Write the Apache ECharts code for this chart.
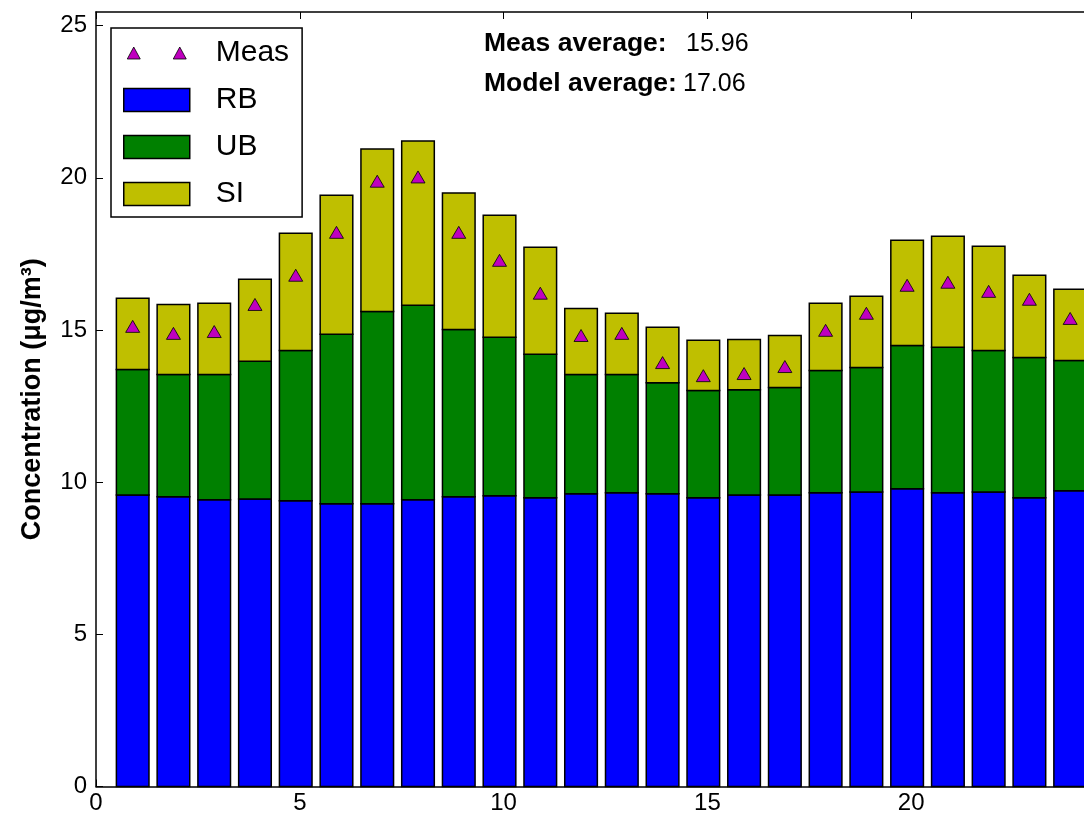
<!DOCTYPE html>
<html>
<head>
<meta charset="utf-8">
<script src="https://cdn.jsdelivr.net/npm/echarts@6/dist/echarts.min.js"></script>
<style>
  html, body { margin: 0; padding: 0; background: #ffffff; }
  #chart { width: 1084px; height: 818px; }
</style>
</head>
<body>
<div id="chart"></div>
<script>
// Hour of day for each bar
const hours = [1, 2, 3, 4, 5, 6, 7, 8, 9, 10, 11, 12, 13, 14, 15, 16, 17, 18, 19, 20, 21, 22, 23, 24];

// Modelled contributions (µg/m³), stacked RB -> UB -> SI
const rb = [9.58, 9.52, 9.42, 9.45, 9.39, 9.29, 9.29, 9.42, 9.52, 9.55, 9.49, 9.62,
            9.65, 9.62, 9.49, 9.58, 9.58, 9.65, 9.68, 9.78, 9.65, 9.68, 9.49, 9.72];
const ub = [4.12, 4.02, 4.12, 4.52, 4.94, 5.57, 6.32, 6.39, 5.50, 5.21, 4.71, 3.92,
            3.89, 3.65, 3.52, 3.46, 3.53, 4.02, 4.09, 4.71, 4.78, 4.65, 4.61, 4.28];
const si = [2.34, 2.30, 2.34, 2.70, 3.85, 4.57, 5.34, 5.40, 4.48, 4.01, 3.52, 2.17,
            2.01, 1.82, 1.65, 1.65, 1.71, 2.21, 2.34, 3.46, 3.65, 3.42, 2.70, 2.34];

// Measured concentrations (µg/m³)
const meas = [15.12, 14.89, 14.95, 15.84, 16.80, 18.21, 19.89, 20.03, 18.21, 17.29, 16.21, 14.82,
              14.89, 13.93, 13.50, 13.57, 13.80, 14.99, 15.55, 16.47, 16.57, 16.27, 16.01, 15.38];

// Summary figures printed in the header
const measAverage = '15.96';
const modelAverage = '17.06';

// Bars start half a unit left of the hour and are 0.8 units wide
const BAR_LEFT = -0.5;
const BAR_WIDTH = 0.8;
const BAR_CENTER = BAR_LEFT + BAR_WIDTH / 2;

const FONT = '"Liberation Sans", Arial, Helvetica, sans-serif';
const COLORS = { RB: '#0000ff', UB: '#008000', SI: '#bfbf00', Meas: '#bf00bf' };

// cumulative tops
const rbTop = rb.slice();
const ubTop = rb.map((v, i) => v + ub[i]);
const siTop = ubTop.map((v, i) => v + si[i]);

function layerData(low, high) {
  return hours.map((h, i) => [h, low[i], high[i]]);
}

function renderStackRect(color) {
  return function (params, api) {
    const h = api.value(0);
    const p0 = api.coord([h + BAR_LEFT, api.value(2)]);
    const p1 = api.coord([h + BAR_LEFT + BAR_WIDTH, api.value(1)]);
    return {
      type: 'rect',
      shape: { x: p0[0], y: p0[1], width: p1[0] - p0[0], height: p1[1] - p0[1] },
      style: { fill: color, stroke: '#000000', lineWidth: 1.5 }
    };
  };
}

function stackSeries(name, low, high) {
  return {
    name: name,
    type: 'custom',
    xAxisIndex: 0,
    yAxisIndex: 0,
    itemStyle: { color: COLORS[name], borderColor: '#000', borderWidth: 1.5 },
    encode: { x: 0, y: [1, 2] },
    data: layerData(low, high),
    renderItem: renderStackRect(COLORS[name]),
    silent: true,
    z: 2
  };
}

const zeros = hours.map(() => 0);

const axisLineStyle = { color: '#000000', width: 1.5 };

const chart = echarts.init(document.getElementById('chart'), null, { renderer: 'canvas' });

chart.setOption({
  animation: false,
  backgroundColor: '#ffffff',
  grid: {
    left: 96,
    top: 12,
    right: -31,
    bottom: 31.5,
    containLabel: false,
    outerBoundsMode: 'none'
  },
  xAxis: [
    {
      type: 'value',
      position: 'bottom',
      min: 0,
      max: 25,
      interval: 5,
      axisLine: { show: true, onZero: false, lineStyle: axisLineStyle },
      axisTick: { show: true, inside: true, length: 7, lineStyle: { color: '#000', width: 1 } },
      axisLabel: { show: true, color: '#000', fontSize: 24, fontFamily: FONT, margin: 5 },
      splitLine: { show: false }
    },
    {
      type: 'value',
      position: 'top',
      min: 0,
      max: 25,
      interval: 5,
      axisLine: { show: true, onZero: false, lineStyle: axisLineStyle },
      axisTick: { show: true, inside: true, length: 7, lineStyle: { color: '#000', width: 1 } },
      axisLabel: { show: false },
      splitLine: { show: false }
    }
  ],
  yAxis: [
    {
      type: 'value',
      position: 'left',
      min: 0,
      max: 25.45,
      interval: 5,
      name: 'Concentration (μg/m³)',
      nameLocation: 'middle',
      nameRotate: 90,
      nameGap: 50,
      nameTextStyle: { color: '#000', fontSize: 27, fontWeight: 'bold', fontFamily: FONT },
      axisLine: { show: true, onZero: false, lineStyle: axisLineStyle },
      axisTick: { show: true, inside: true, length: 7, lineStyle: { color: '#000', width: 1 } },
      axisLabel: { show: true, color: '#000', fontSize: 24, fontFamily: FONT, margin: 9, showMaxLabel: false },
      splitLine: { show: false }
    },
    {
      type: 'value',
      position: 'right',
      min: 0,
      max: 25.45,
      interval: 5,
      axisLine: { show: true, onZero: false, lineStyle: axisLineStyle },
      axisTick: { show: true, inside: true, length: 7 },
      axisLabel: { show: false },
      splitLine: { show: false }
    }
  ],
  legend: {
    data: [
      {
        name: 'Meas',
        icon: 'path://M0,0M66,23M3.5,17.5L10,5.5L16.5,17.5ZM49.5,17.5L56,5.5L62.5,17.5Z',
        itemStyle: { color: COLORS.Meas, borderColor: '#000', borderWidth: 0.8 }
      },
      { name: 'RB', icon: 'rect', itemStyle: { color: COLORS.RB, borderColor: '#000', borderWidth: 1.5 } },
      { name: 'UB', icon: 'rect', itemStyle: { color: COLORS.UB, borderColor: '#000', borderWidth: 1.5 } },
      { name: 'SI', icon: 'rect', itemStyle: { color: COLORS.SI, borderColor: '#000', borderWidth: 1.5 } }
    ],
    orient: 'vertical',
    left: 111,
    top: 28,
    itemWidth: 66,
    itemHeight: 23,
    itemGap: 17,
    padding: [10, 13, 8, 12],
    borderColor: '#000',
    borderWidth: 1.5,
    backgroundColor: '#ffffff',
    selectedMode: false,
    textStyle: { color: '#000', fontSize: 30, fontFamily: FONT, padding: [0, 0, 0, 21] },
    z: 10
  },
  graphic: [
    { type: 'text', x: 484, y: 44, z: 20,
      style: { text: 'Meas average:', font: 'bold 26.5px ' + FONT, fill: '#000', verticalAlign: 'middle' } },
    { type: 'text', x: 686, y: 44, z: 20,
      style: { text: measAverage, font: '25px ' + FONT, fill: '#000', verticalAlign: 'middle' } },
    { type: 'text', x: 484, y: 84, z: 20,
      style: { text: 'Model average:', font: 'bold 26.5px ' + FONT, fill: '#000', verticalAlign: 'middle' } },
    { type: 'text', x: 683, y: 84, z: 20,
      style: { text: modelAverage, font: '25px ' + FONT, fill: '#000', verticalAlign: 'middle' } }
  ],
  series: [
    stackSeries('RB', zeros, rbTop),
    stackSeries('UB', rbTop, ubTop),
    stackSeries('SI', ubTop, siTop),
    {
      name: 'Meas',
      type: 'scatter',
      xAxisIndex: 0,
      yAxisIndex: 0,
      symbol: 'triangle',
      symbolSize: [14, 12],
      itemStyle: { color: COLORS.Meas, borderColor: '#000', borderWidth: 0.8, opacity: 1 },
      data: hours.map((h, i) => [h + BAR_CENTER, meas[i]]),
      silent: true,
      z: 5
    }
  ]
});
</script>
</body>
</html>
